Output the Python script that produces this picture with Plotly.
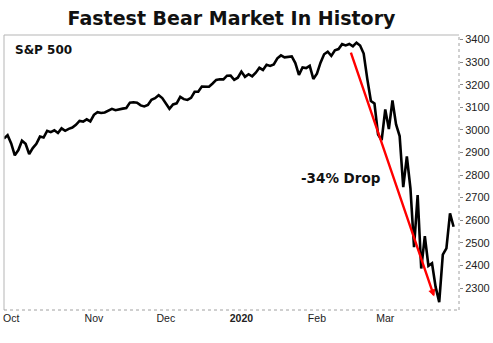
import plotly.graph_objects as go

# S&P 500 daily closes, Sep 27 2019 .. Mar 27 2020 (trading-day index on x)
closes = [
    2961.8, 2976.7,
    # Oct
    2940.3, 2887.6, 2910.6, 2952.0, 2938.8, 2893.1, 2919.4, 2938.1, 2970.3, 2966.2,
    2995.7, 2989.7, 2998.0, 2986.2, 3006.7, 2996.0, 3004.5, 3010.3, 3022.6, 3039.4,
    3036.9, 3046.8, 3037.6,
    # Nov
    3066.9, 3078.3, 3074.6, 3076.8, 3085.2, 3093.1, 3087.0, 3091.8, 3094.0, 3096.6,
    3120.5, 3122.0, 3120.2, 3108.5, 3103.5, 3110.3, 3133.6, 3140.5, 3153.6, 3141.0,
    # Dec
    3113.9, 3093.2, 3112.8, 3117.4, 3145.9, 3136.0, 3132.5, 3141.6, 3168.6, 3168.8,
    3191.5, 3192.5, 3191.1, 3205.4, 3221.2, 3224.0, 3223.4, 3239.9, 3240.0, 3221.3,
    3230.8,
    # Jan
    3257.9, 3234.9, 3246.3, 3237.2, 3253.1, 3274.7, 3265.4, 3288.1, 3283.2, 3289.3,
    3316.8, 3329.6, 3320.8, 3321.8, 3325.5, 3295.5, 3243.6, 3276.2, 3273.4, 3283.7,
    3225.5,
    # Feb
    3248.9, 3297.6, 3334.7, 3345.8, 3327.7, 3352.1, 3357.8, 3379.5, 3373.9, 3380.2,
    3370.3, 3386.2, 3373.2, 3337.8, 3225.9, 3128.2, 3116.4, 2978.8, 2954.2,
    # Mar
    3090.2, 3003.4, 3130.1, 3023.9, 2972.4, 2746.6, 2882.2, 2741.4, 2480.6, 2711.0,
    2386.1, 2529.2, 2398.1, 2409.4, 2304.9, 2237.4, 2447.3, 2475.6, 2630.1, 2571.0,
]
x_idx = list(range(len(closes)))

month_tick_idx = [2, 25, 45, 66, 87, 106]
month_tick_text = ["Oct", "Nov", "Dec", "<b>2020</b>", "Feb", "Mar"]
y_tick_vals = [2300, 2400, 2500, 2600, 2700, 2800, 2900, 3000, 3100, 3200, 3300, 3400]

# trend arrow (data coordinates): start near peak, end near trough
arrow_start = [96.3, 3349]
arrow_end = [119.6, 2262]
drop_label = "-34% Drop"
drop_label_pos = [93.6, 2789]

fig = go.Figure()
fig.add_trace(go.Scatter(
    x=x_idx, y=closes, mode="lines",
    line=dict(color="black", width=2.6), showlegend=False, hoverinfo="skip",
))

fig.add_annotation(
    x=arrow_end[0], y=arrow_end[1], ax=arrow_start[0], ay=arrow_start[1],
    xref="x", yref="y", axref="x", ayref="y",
    showarrow=True, arrowhead=2, arrowsize=0.6, arrowwidth=2.4, arrowcolor="#ff0000",
    text="",
)
fig.add_annotation(
    x=drop_label_pos[0], y=drop_label_pos[1], xref="x", yref="y",
    text="<b>" + drop_label + "</b>", showarrow=False,
    font=dict(family="DejaVu Sans", size=13.5, color="#111"),
)
fig.add_annotation(
    x=0.02, y=0.98, xref="paper", yref="paper", xanchor="left", yanchor="top",
    text="<b>S&P 500</b>", showarrow=False,
    font=dict(family="DejaVu Sans", size=12, color="#111"),
)

# plot frame: solid left/top, dotted right/bottom
fig.add_shape(type="line", xref="paper", yref="paper", x0=0, x1=0, y0=0, y1=1,
              line=dict(color="#b5b5b5", width=1))
fig.add_shape(type="line", xref="paper", yref="paper", x0=0, x1=1, y0=1, y1=1,
              line=dict(color="#b5b5b5", width=1))
fig.add_shape(type="line", xref="paper", yref="paper", x0=1, x1=1, y0=0, y1=1,
              line=dict(color="#a0a0a0", width=1, dash="dot"))
fig.add_shape(type="line", xref="paper", yref="paper", x0=0, x1=1, y0=0, y1=0,
              line=dict(color="#a0a0a0", width=1, dash="dot"))

fig.update_layout(
    width=493, height=343,
    margin=dict(l=3, r=30, t=35, b=33),
    paper_bgcolor="white", plot_bgcolor="white",
    title=dict(
        text="<b>Fastest Bear Market In History</b>",
        x=0.5, xanchor="center", xref="paper",
        y=1 - 18.5 / 343, yanchor="middle", yref="container",
        font=dict(family="DejaVu Sans", size=19, color="#111"),
    ),
    xaxis=dict(
        range=[0, 126.5], showgrid=False, zeroline=False, showline=False,
        tickmode="array", tickvals=month_tick_idx, ticktext=month_tick_text,
        ticks="", tickfont=dict(family="Liberation Sans", size=10.5, color="#222"),
    ),
    yaxis=dict(
        range=[2202.6, 3420], side="right", showgrid=False, zeroline=False,
        showline=False, tickmode="array", tickvals=y_tick_vals,
        ticks="outside", ticklen=3, tickcolor="#888",
        tickfont=dict(family="Liberation Sans", size=11, color="#222"),
    ),
)

fig.write_html("out.html")
